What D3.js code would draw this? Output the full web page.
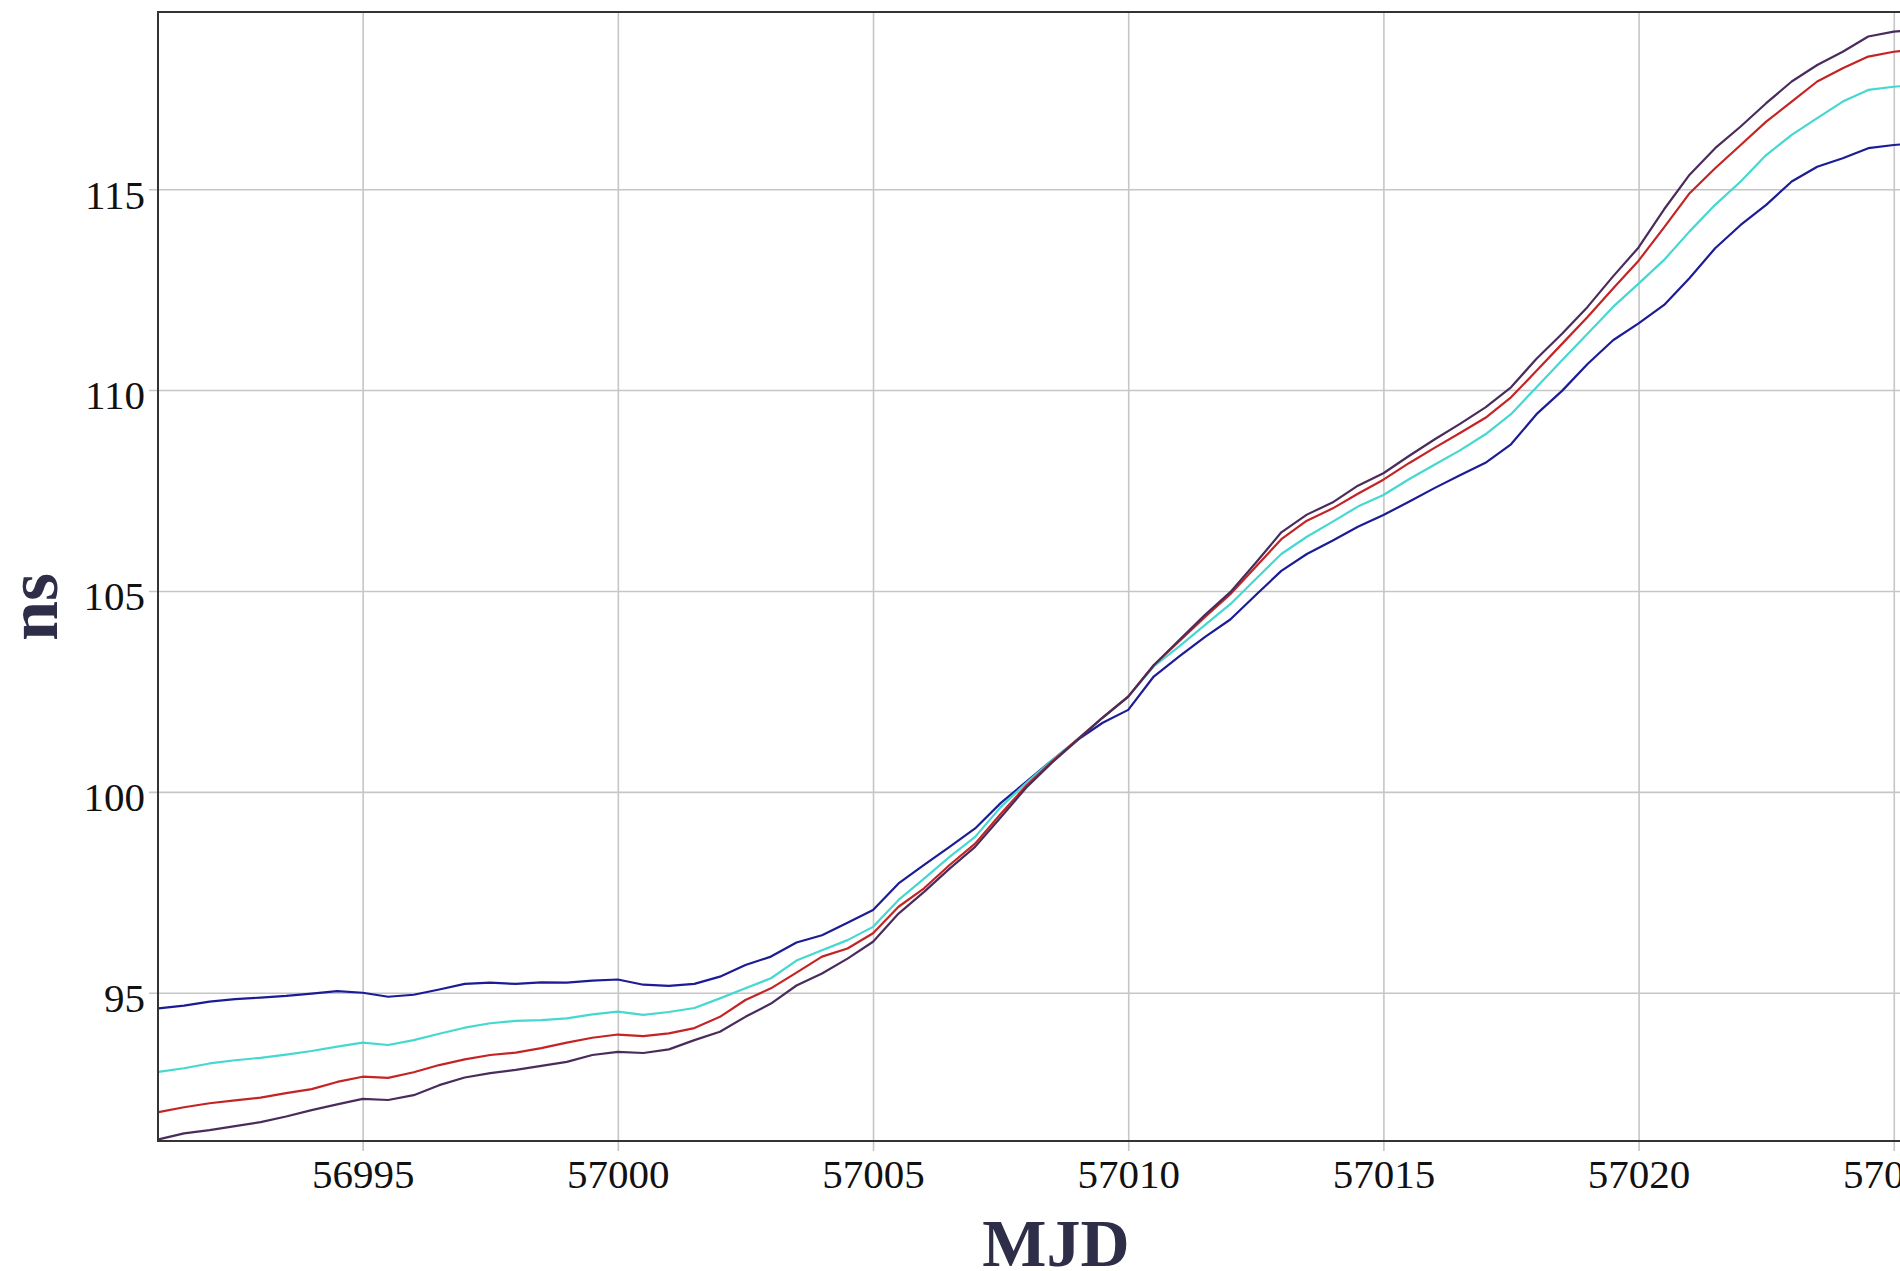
<!DOCTYPE html>
<html>
<head>
<meta charset="utf-8">
<script src="https://cdn.jsdelivr.net/npm/d3@7"></script>
<style>
  body { margin: 0; background: #fff; }
  svg { display: block; }
</style>
</head>
<body>
<svg width="1900" height="1271"></svg>
<script>
// MJD sample points, half-day steps
const days = d3.range(0, 70).map(i => 56991 + i * 0.5);

const blueVals = [
  94.61, 94.68, 94.78, 94.84, 94.88, 94.92, 94.98, 95.04, 95.00, 94.90,
  94.95, 95.08, 95.22, 95.25, 95.22, 95.26, 95.25, 95.30, 95.33, 95.20,
  95.17, 95.22, 95.40, 95.69, 95.90, 96.25, 96.43, 96.74, 97.06, 97.72,
  98.18, 98.63, 99.09, 99.72, 100.25, 100.78, 101.29, 101.72, 102.04, 102.87,
  103.37, 103.85, 104.29, 104.90, 105.50, 105.92, 106.25, 106.60, 106.89, 107.22,
  107.56, 107.88, 108.19, 108.65, 109.40, 109.98, 110.65, 111.24, 111.66, 112.12,
  112.79, 113.53, 114.11, 114.61, 115.19, 115.56, 115.77, 116.02, 116.10, 116.15
];
const cyanVals = [
  93.03, 93.12, 93.24, 93.32, 93.38, 93.46, 93.55, 93.66, 93.76, 93.70,
  93.82, 93.98, 94.13, 94.24, 94.30, 94.32, 94.36, 94.46, 94.53, 94.45,
  94.52, 94.62, 94.86, 95.11, 95.36, 95.80, 96.06, 96.31, 96.64, 97.31,
  97.84, 98.38, 98.88, 99.62, 100.22, 100.78, 101.30, 101.85, 102.37, 103.12,
  103.62, 104.15, 104.67, 105.30, 105.92, 106.35, 106.72, 107.10, 107.39, 107.78,
  108.14, 108.50, 108.90, 109.40, 110.07, 110.74, 111.40, 112.07, 112.65, 113.24,
  113.95, 114.61, 115.19, 115.85, 116.35, 116.77, 117.18, 117.47, 117.55, 117.60
];
const redVals = [
  92.03, 92.15, 92.25, 92.32, 92.39, 92.50, 92.60, 92.78, 92.91, 92.88,
  93.02, 93.20, 93.34, 93.45, 93.51, 93.62, 93.76, 93.88, 93.96, 93.92,
  93.99, 94.12, 94.40, 94.82, 95.11, 95.50, 95.90, 96.10, 96.48, 97.14,
  97.60, 98.18, 98.71, 99.45, 100.15, 100.75, 101.30, 101.85, 102.37, 103.15,
  103.75, 104.35, 104.92, 105.60, 106.29, 106.75, 107.05, 107.42, 107.77, 108.18,
  108.56, 108.93, 109.31, 109.82, 110.48, 111.15, 111.82, 112.53, 113.22, 114.05,
  114.90, 115.52, 116.10, 116.68, 117.18, 117.68, 118.01, 118.30, 118.42, 118.48
];
const purpleVals = [
  91.35, 91.50, 91.58, 91.68, 91.78, 91.92, 92.08, 92.22, 92.36, 92.33,
  92.45, 92.70, 92.89, 93.00, 93.08, 93.18, 93.28, 93.45, 93.53, 93.50,
  93.59, 93.82, 94.03, 94.40, 94.73, 95.18, 95.48, 95.85, 96.27, 96.97,
  97.51, 98.09, 98.63, 99.36, 100.10, 100.72, 101.28, 101.85, 102.37, 103.15,
  103.78, 104.40, 104.97, 105.70, 106.46, 106.90, 107.20, 107.62, 107.93, 108.36,
  108.77, 109.16, 109.57, 110.07, 110.78, 111.40, 112.07, 112.83, 113.55, 114.50,
  115.36, 116.02, 116.56, 117.14, 117.68, 118.09, 118.42, 118.80, 118.92, 118.98
];

const xTicks = [56995, 57000, 57005, 57010, 57015, 57020, 57025];
const yTicks = [95, 100, 105, 110, 115];

const series = [
  { name: 'blue', color: '#1c1c96', values: blueVals },
  { name: 'cyan', color: '#45d8d0', values: cyanVals },
  { name: 'red', color: '#c42424', values: redVals },
  { name: 'purple', color: '#4a2c5c', values: purpleVals },
];

const plotL = 158, plotT = 12, plotR = 1954, plotB = 1141;

const x = d3.scaleLinear().domain([56990.99, 57026.18]).range([plotL, plotR]);
const y = d3.scaleLinear().domain([91.31, 119.41]).range([plotB, plotT]);

const svg = d3.select('svg');

svg.append('clipPath').attr('id', 'plot-clip')
  .append('rect')
  .attr('x', plotL).attr('y', plotT)
  .attr('width', plotR - plotL).attr('height', plotB - plotT);

// x grid + labels
const xAxis = svg.append('g')
  .attr('transform', `translate(0,${plotT})`)
  .call(d3.axisBottom(x).tickValues(xTicks).tickFormat(d3.format('d'))
    .tickSize(plotB - plotT + 10).tickPadding(8));

// y grid + labels
const yAxis = svg.append('g')
  .attr('transform', `translate(${plotR},0)`)
  .call(d3.axisLeft(y).tickValues(yTicks).tickFormat(d3.format('d'))
    .tickSize(plotR - plotL + 9).tickPadding(4));

[xAxis, yAxis].forEach(g => {
  g.select('.domain').remove();
  g.selectAll('.tick line').attr('stroke', '#c6c6c6').attr('stroke-width', 1.6);
  g.selectAll('.tick text')
    .attr('fill', '#111')
    .style('font-family', '"Liberation Serif", "Times New Roman", serif')
    .style('font-size', '41px');
});
yAxis.selectAll('.tick text').attr('dy', '0.46em');

const line = d3.line()
  .x((d, i) => x(days[i]))
  .y(d => y(d));

svg.append('g')
  .attr('clip-path', 'url(#plot-clip)')
  .selectAll('path')
  .data(series)
  .enter()
  .append('path')
  .attr('d', s => line(s.values))
  .attr('fill', 'none')
  .attr('stroke', s => s.color)
  .attr('stroke-width', 2.2)
  .attr('stroke-linejoin', 'round');

// frame
svg.append('rect')
  .attr('x', plotL).attr('y', plotT)
  .attr('width', plotR - plotL).attr('height', plotB - plotT)
  .attr('fill', 'none')
  .attr('stroke', '#333')
  .attr('stroke-width', 2);

// axis titles
svg.append('text')
  .attr('x', 1056).attr('y', 1266)
  .attr('text-anchor', 'middle')
  .attr('fill', '#2e2e48')
  .style('font-family', '"Liberation Serif", "Times New Roman", serif')
  .style('font-weight', 'bold')
  .style('font-size', '68px')
  .text('MJD');

svg.append('text')
  .attr('transform', 'translate(57,607) rotate(-90)')
  .attr('text-anchor', 'middle')
  .attr('fill', '#2e2e48')
  .style('font-family', '"Liberation Serif", "Times New Roman", serif')
  .style('font-weight', 'bold')
  .style('font-size', '72px')
  .text('ns');
</script>
</body>
</html>
